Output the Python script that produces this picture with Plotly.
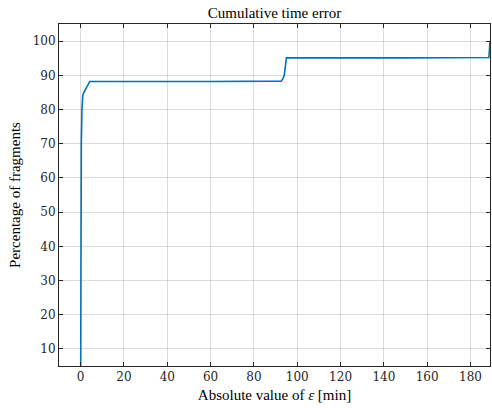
import plotly.graph_objects as go

# Cumulative curve
err_min = [0, 0.0, 0.3, 0.6, 1.0, 1.5, 2.5, 3.2, 4.2, 60, 92.6, 93.4, 94.0, 94.6, 95.0, 150, 188.5, 189.0]
pct     = [0, 40, 70, 80, 84.3, 85.0, 86.2, 87.3, 88.2, 88.2, 88.3, 89.0, 90.0, 93.0, 95.1, 95.1, 95.2, 100.0]

x_ticks = [0, 20, 40, 60, 80, 100, 120, 140, 160, 180]
y_ticks = [10, 20, 30, 40, 50, 60, 70, 80, 90, 100]

FONT = "Liberation Serif"
AX = "#262626"

fig = go.Figure()
fig.add_trace(go.Scatter(x=err_min, y=pct, mode="lines",
                         line=dict(color="#0072BD", width=1.6), showlegend=False))

axis_common = dict(showline=True, linecolor=AX, linewidth=1, mirror="ticks",
                   ticks="inside", ticklen=4, tickcolor=AX, tickwidth=1,
                   showgrid=True, gridcolor="rgba(0,0,0,0.14)", gridwidth=1,
                   zeroline=False, tickfont=dict(family="DejaVu Serif", size=12, color=AX))

fig.update_layout(
    width=492, height=408,
    font=dict(family=FONT, size=13, color=AX),
    margin=dict(l=59, r=2, t=24, b=42, autoexpand=False),
    paper_bgcolor="white", plot_bgcolor="white",
    title=dict(text="Cumulative time error", x=0.5, xanchor="center",
               xref="paper", y=1, yref="paper", yanchor="bottom", pad=dict(b=6),
               font=dict(family=FONT, size=15, color="black")),
    xaxis=dict(range=[-10, 189], tickvals=x_ticks, automargin=False,
               title=dict(text="Absolute value of <i>ε</i> [min]", standoff=6,
                          font=dict(family=FONT, size=15, color="black")),
               **axis_common),
    yaxis=dict(range=[5, 105], tickvals=y_ticks, automargin=False,
               title=dict(text="Percentage of fragments", standoff=8,
                          font=dict(family=FONT, size=15, color="black")),
               **axis_common),
)

fig.write_html("out.html", config={"displayModeBar": False},
               post_script="document.body.style.margin='0';document.body.style.overflow='hidden';")
